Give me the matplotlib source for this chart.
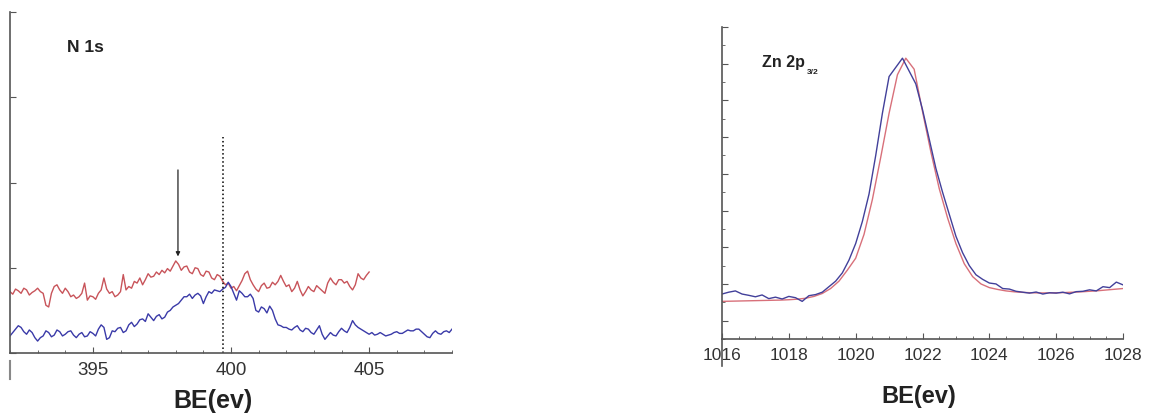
import numpy as np
import matplotlib
matplotlib.use("Agg")
import matplotlib.pyplot as plt
from matplotlib.ticker import MultipleLocator

plt.rcParams['font.family'] = ['Liberation Sans', 'DejaVu Sans']

# ---------------- N 1s panel (left) ----------------
n1s_start, n1s_step = 392.0, 0.1
n1s_red = [0.72, 0.69, 0.75, 0.73, 0.70, 0.76, 0.74, 0.68, 0.71, 0.73,
           0.76, 0.72, 0.70, 0.56, 0.54, 0.70, 0.78, 0.80, 0.74, 0.70,
           0.76, 0.72, 0.66, 0.68, 0.64, 0.66, 0.70, 0.82, 0.62, 0.67,
           0.66, 0.63, 0.70, 0.74, 0.88, 0.75, 0.70, 0.72, 0.66, 0.68,
           0.72, 0.92, 0.74, 0.78, 0.76, 0.84, 0.82, 0.88, 0.80, 0.86,
           0.93, 0.89, 0.90, 0.95, 0.92, 0.97, 0.94, 0.99, 0.96, 1.02,
           1.08, 1.04, 0.97, 1.01, 1.02, 0.95, 0.93, 1.00, 0.99, 0.92,
           0.90, 0.96, 0.95, 0.88, 0.86, 0.92, 0.90, 0.84, 0.80, 0.82,
           0.76, 0.78, 0.73, 0.79, 0.85, 0.93, 0.96, 0.86, 0.80, 0.75,
           0.72, 0.79, 0.82, 0.76, 0.77, 0.83, 0.80, 0.84, 0.91, 0.84,
           0.78, 0.80, 0.72, 0.76, 0.84, 0.74, 0.67, 0.72, 0.78, 0.74,
           0.72, 0.79, 0.76, 0.73, 0.70, 0.82, 0.88, 0.83, 0.80, 0.86,
           0.86, 0.82, 0.84, 0.78, 0.74, 0.80, 0.93, 0.88, 0.86, 0.91,
           0.95]
n1s_blue = [0.20, 0.24, 0.28, 0.32, 0.30, 0.25, 0.22, 0.27, 0.24, 0.18,
            0.14, 0.18, 0.20, 0.26, 0.24, 0.19, 0.21, 0.27, 0.25, 0.20,
            0.22, 0.25, 0.26, 0.21, 0.18, 0.22, 0.24, 0.19, 0.20, 0.25,
            0.23, 0.20, 0.28, 0.33, 0.30, 0.16, 0.18, 0.26, 0.25, 0.29,
            0.30, 0.24, 0.26, 0.33, 0.36, 0.31, 0.34, 0.39, 0.40, 0.37,
            0.46, 0.42, 0.38, 0.43, 0.45, 0.40, 0.42, 0.48, 0.50, 0.54,
            0.56, 0.58, 0.62, 0.66, 0.66, 0.69, 0.64, 0.68, 0.70, 0.67,
            0.58, 0.66, 0.72, 0.70, 0.74, 0.73, 0.72, 0.75, 0.77, 0.83,
            0.78, 0.70, 0.62, 0.73, 0.70, 0.66, 0.66, 0.69, 0.64, 0.50,
            0.48, 0.54, 0.52, 0.47, 0.55, 0.50, 0.40, 0.33, 0.32, 0.30,
            0.30, 0.28, 0.27, 0.30, 0.32, 0.27, 0.25, 0.29, 0.28, 0.24,
            0.22, 0.27, 0.32, 0.22, 0.16, 0.20, 0.24, 0.21, 0.20, 0.25,
            0.29, 0.26, 0.24, 0.30, 0.38, 0.33, 0.30, 0.28, 0.26, 0.24,
            0.22, 0.24, 0.21, 0.22, 0.24, 0.22, 0.20, 0.21, 0.22, 0.24,
            0.25, 0.23, 0.23, 0.25, 0.27, 0.26, 0.26, 0.28, 0.28, 0.25,
            0.22, 0.19, 0.18, 0.23, 0.26, 0.23, 0.22, 0.25, 0.26, 0.24,
            0.28]
n1s_ref_line = 399.7      # dotted marker
n1s_ref_top = 2.53
n1s_arrow_x = 398.08
n1s_arrow_from, n1s_arrow_to = 2.18, 1.10

# ---------------- Zn 2p3/2 panel (right) ----------------
zn_red_start, zn_red_step = 1016.0, 0.25
zn_red = [2.05, 2.06, 2.07, 2.08, 2.09, 2.10, 2.11, 2.12, 2.14, 2.17, 2.22, 2.32,
          2.48, 2.75, 3.15, 3.75, 4.40, 5.70, 7.60, 9.90, 12.3, 14.4, 15.3, 14.7,
          12.4, 10.2, 8.20, 6.60, 5.20, 4.10, 3.40, 3.00, 2.80, 2.70, 2.62, 2.57,
          2.54, 2.52, 2.51, 2.51, 2.52, 2.53, 2.55, 2.57, 2.60, 2.63, 2.67, 2.71,
          2.75]
zn_blue_start, zn_blue_step = 1016.0, 0.2
zn_blue = [2.45, 2.55, 2.62, 2.45, 2.38, 2.30, 2.40, 2.20, 2.28, 2.18,
           2.32, 2.25, 2.05, 2.36, 2.42, 2.55, 2.85, 3.15, 3.60, 4.30,
           5.20, 6.40, 7.90, 10.0, 12.3, 14.3, 14.8, 15.3, 14.6, 13.9,
           12.5, 10.9, 9.30, 8.00, 6.80, 5.60, 4.70, 4.00, 3.50, 3.25,
           3.05, 3.00, 2.75, 2.72, 2.60, 2.55, 2.50, 2.56, 2.45, 2.52,
           2.50, 2.55, 2.46, 2.58, 2.60, 2.68, 2.62, 2.85, 2.80, 3.10,
           2.95]

red_c = '#c8545a'
blue_c = '#3a3aa8'
zn_red_c = '#d8707a'
zn_blue_c = '#42409a'
spine_c = '#555555'
tick_c = '#333333'

fig = plt.figure(figsize=(11.49, 4.14), dpi=100)


def style_axes(ax, labelsize):
    for s in ['top', 'right']:
        ax.spines[s].set_visible(False)
    for s in ['left', 'bottom']:
        ax.spines[s].set_color(spine_c)
        ax.spines[s].set_linewidth(1.2)
    ax.tick_params(which='both', direction='in', color=spine_c, labelcolor=tick_c,
                   labelsize=labelsize, pad=6)
    ax.tick_params(which='major', length=4)
    ax.tick_params(which='minor', length=2.5)
    ax.set_yticklabels([])


# left panel
ax1 = fig.add_axes([10 / 1149, 60 / 414, 442 / 1149, 341 / 414])
x_red = n1s_start + n1s_step * np.arange(len(n1s_red))
x_blue = n1s_start + n1s_step * np.arange(len(n1s_blue))
ax1.plot(x_red, n1s_red, color=red_c, lw=1.0)
ax1.plot(x_blue, n1s_blue, color=blue_c, lw=1.0)
ax1.vlines(n1s_ref_line, 0, n1s_ref_top, colors='black', linestyles=':', lw=1.1)
ax1.annotate('', xy=(n1s_arrow_x, n1s_arrow_to), xytext=(n1s_arrow_x, n1s_arrow_from),
             arrowprops=dict(arrowstyle='-|>', color='#222222', lw=0.9, mutation_scale=6))
ax1.set_xlim(392, 408)
ax1.set_ylim(0, 4)
ax1.xaxis.set_major_locator(MultipleLocator(5))
ax1.xaxis.set_minor_locator(MultipleLocator(1))
ax1.yaxis.set_major_locator(MultipleLocator(1))
style_axes(ax1, 13.5)
ax1.text(394.07, 3.6, 'N 1s', fontsize=12.5, fontweight='bold', va='center', color='#222222')
ax1.set_xlabel('BE(ev)', fontsize=18, fontweight='bold', color='#222222')
ax1.xaxis.set_label_coords(0.459, -0.103)
ax1.axvline(392, ymin=-0.076, ymax=-0.024, clip_on=False, color='#888888', lw=1.5)

# right panel
ax2 = fig.add_axes([722 / 1149, 74 / 414, 401 / 1149, 312 / 414])
xr = zn_red_start + zn_red_step * np.arange(len(zn_red))
xb = zn_blue_start + zn_blue_step * np.arange(len(zn_blue))
ax2.plot(xr, zn_red, color=zn_red_c, lw=1.0)
ax2.plot(xb, zn_blue, color=zn_blue_c, lw=1.0)
ax2.set_xlim(1016, 1028)
ax2.set_ylim(0, 17)
ax2.xaxis.set_major_locator(MultipleLocator(2))
ax2.xaxis.set_minor_locator(MultipleLocator(0.5))
ax2.set_yticks(np.arange(1, 18, 2))
ax2.set_yticks(np.arange(0, 17, 2), minor=True)
style_axes(ax2, 12.5)
ax2.text(1017.2, 15.1, 'Zn 2p', fontsize=11.5, fontweight='bold',
         va='center', color='#222222')
ax2.text(1018.55, 14.6, '3/2', fontsize=6, fontweight='bold',
         va='center', color='#222222')
ax2.set_xlabel('BE(ev)', fontsize=17, fontweight='bold', color='#222222')
ax2.xaxis.set_label_coords(0.491, -0.145)
ax2.axvline(1016, ymin=-0.087, ymax=0, clip_on=False, color=spine_c, lw=1.2)

fig.savefig('out.png', dpi=100)
